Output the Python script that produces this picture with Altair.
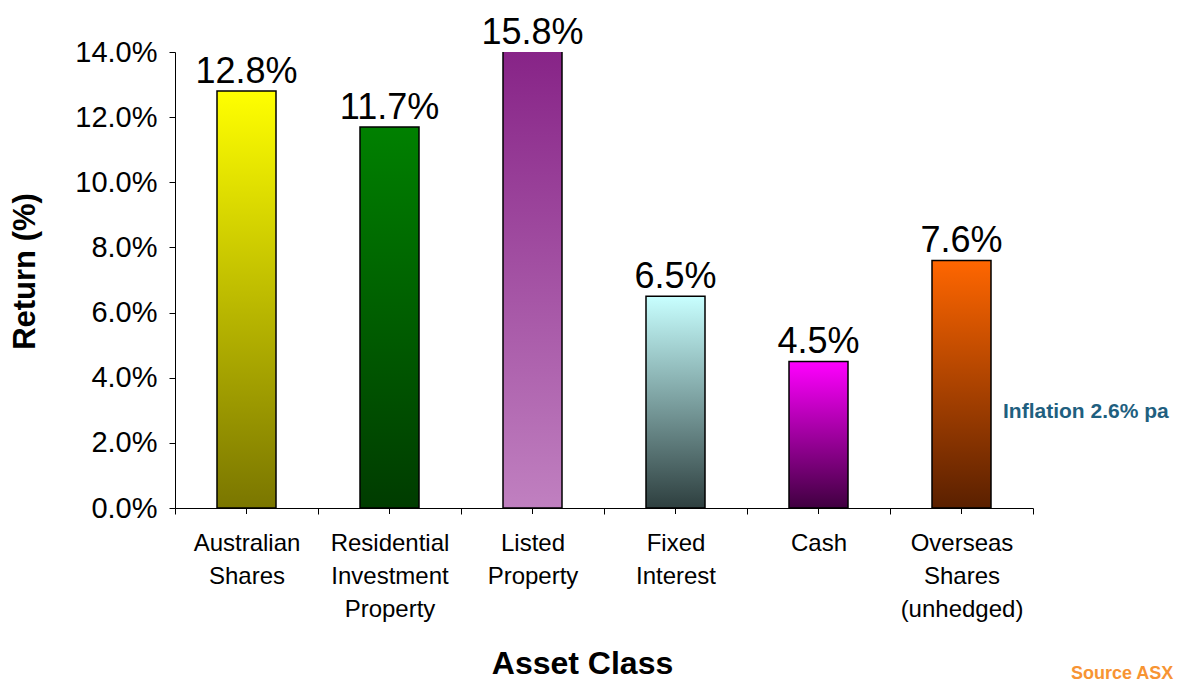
import json
import altair as alt
import pandas as pd

# ---- data ----
categories = [
    "Australian Shares",
    "Residential Investment Property",
    "Listed Property",
    "Fixed Interest",
    "Cash",
    "Overseas Shares (unhedged)",
]
label_lines = [
    ["Australian", "Shares"],
    ["Residential", "Investment", "Property"],
    ["Listed", "Property"],
    ["Fixed", "Interest"],
    ["Cash"],
    ["Overseas", "Shares", "(unhedged)"],
]
values = [12.8, 11.7, 15.8, 6.5, 4.5, 7.6]
top_colors = ["#FFFF00", "#008000", "#801880", "#C8FFFF", "#FF00FF", "#FF6600"]
bottom_colors = ["#7A7600", "#003C00", "#C080C0", "#2E3F3F", "#400040", "#5A2000"]
y_ticks = [0, 2, 4, 6, 8, 10, 12, 14]
y_max = 14
inflation_note = ["Inflation 2.6% pa"]
source_note = ["Source ASX"]

df = pd.DataFrame({"category": categories, "value": values})

W, H = 858, 456
FONT = "Liberation Sans"

label_map = json.dumps(dict(zip(categories, label_lines)))

x_axis = alt.Axis(
    title="Asset Class",
    labelAngle=0,
    labelExpr=label_map + "[datum.value]",
    labelFontSize=24,
    labelLineHeight=33,
    labelPadding=17,
    tickSize=6,
    tickBand="extent",
    titleFontSize=32,
    titleFontWeight="bold",
    titleX=407,
    titleY=155,
    titleAlign="center",
    titleBaseline="middle",
)
x_enc = alt.X(
    "category:N",
    sort=categories,
    scale=alt.Scale(paddingInner=0, paddingOuter=0),
    axis=x_axis,
)


def y_axis():
    return alt.Axis(
        title="Return (%)",
        values=y_ticks,
        labelExpr="format(datum.value, '.1f') + '%'",
        labelFontSize=29,
        labelPadding=12,
        tickSize=6,
        titleFontSize=31,
        titleFontWeight="bold",
        titleAngle=270,
        titleX=-150,
        titleY=219,
        titleAlign="center",
        titleBaseline="middle",
    )


y_scale = alt.Scale(domain=[0, y_max], nice=False, zero=True)

base = alt.Chart(df)

layers = []
for cat, top, bot in zip(categories, top_colors, bottom_colors):
    grad = alt.Gradient(
        gradient="linear",
        stops=[alt.GradientStop(color=top, offset=0), alt.GradientStop(color=bot, offset=1)],
        x1=0, x2=0, y1=0, y2=1,
    )
    layers.append(
        base.transform_filter(alt.datum.category == cat)
        .mark_bar(fill=grad, stroke="#000000", strokeWidth=1.5, width=59, clip=True)
        .encode(x=x_enc, y=alt.Y("value:Q", scale=y_scale, axis=y_axis()))
    )

labels = (
    base.transform_calculate(
        ypos="min(datum.value, %d)" % y_max,
        label="format(datum.value, '.1f') + '%'",
    )
    .mark_text(font=FONT, fontSize=36, baseline="alphabetic", dy=-8, color="#000000")
    .encode(
        x=x_enc,
        y=alt.Y("ypos:Q", scale=y_scale, axis=y_axis()),
        text="label:N",
    )
)

center_ticks = base.mark_rule(color="#000000", strokeWidth=1).encode(
    x=x_enc, y=alt.value(H), y2=alt.value(H + 6)
)

inflation = (
    alt.Chart(pd.DataFrame({"t": inflation_note}))
    .mark_text(font=FONT, fontSize=21, fontWeight="bold", color="#1F5F7F", align="left", baseline="middle")
    .encode(x=alt.value(828), y=alt.value(360), text="t:N")
)

source = (
    alt.Chart(pd.DataFrame({"t": source_note}))
    .mark_text(font=FONT, fontSize=18, fontWeight="bold", color="#F79433", align="left", baseline="middle")
    .encode(x=alt.value(896), y=alt.value(622), text="t:N")
)

chart = (
    alt.layer(*layers, labels, center_ticks, inflation, source)
    .properties(
        width=W,
        height=H,
        autosize=alt.AutoSizeParams(type="none"),
        padding={"left": 167, "top": 44, "right": 144, "bottom": 174},
    )
    .configure_view(stroke=None)
    .configure_axis(
        grid=False,
        domainColor="#000000",
        domainWidth=1,
        tickColor="#000000",
        labelColor="#000000",
        titleColor="#000000",
        labelFont=FONT,
        titleFont=FONT,
    )
)

chart.save("out.html", embed_options={"renderer": "svg", "actions": False})
